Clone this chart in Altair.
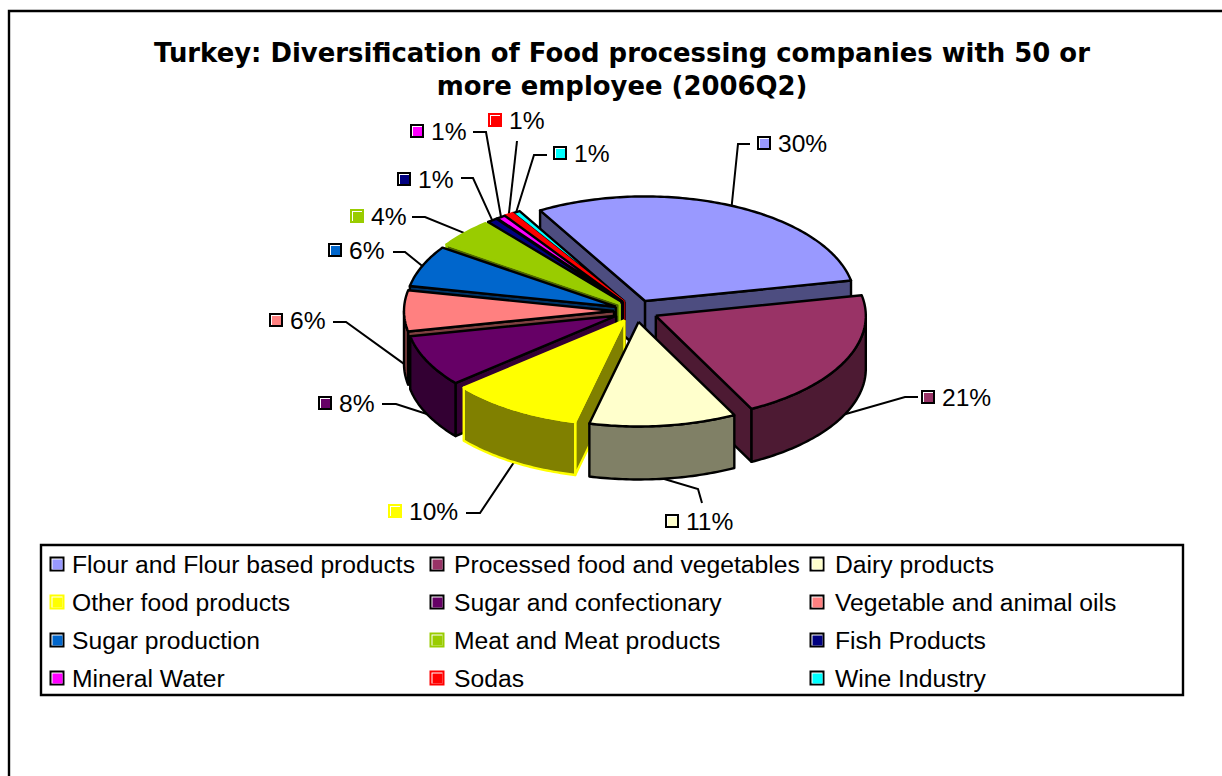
import math
import altair as alt
import pandas as pd

# Share of companies per sector, in percent
sectors = ["Flour and Flour based products", "Processed food and vegetables", "Dairy products",
           "Other food products", "Sugar and confectionary", "Vegetable and animal oils",
           "Sugar production", "Meat and Meat products", "Fish Products",
           "Mineral Water", "Sodas", "Wine Industry"]
shares = [30.2, 20.6, 11.3, 10.1, 8.0, 6.3, 6.4, 4.4, 0.8, 0.7, 0.6, 0.6]
tops = ["#9999FF", "#993366", "#FFFFCC", "#FFFF00", "#660066", "#FF8080",
        "#0066CC", "#99CC00", "#000080", "#FF00FF", "#FF0000", "#00FFFF"]
walls = ["#4D4D80", "#4D1A33", "#808066", "#808000", "#330033", "#804040",
         "#003366", "#4D6600", "#000040", "#800080", "#800000", "#008080"]
edges = ["#000000", "#000000", "#000000", "#FFFF00", "#000000", "#000000",
         "#000000", "#99CC00", "#000000", "#000000", "#FF0000", "#000000"]
# Painter's order, back to front
draw_order = [0, 11, 10, 9, 8, 7, 6, 5, 4, 3, 1, 2]

# Pie geometry
CX, CY = 636, 311
RADIUS, SQUASH, DEPTH, EXPLODE = 210, 0.498, 53, 22
START_ANGLE = -30

# Elbow of each leader line and placement of each data label
elbows = [[(738, 144), (750, 144)], [(905, 397), (918, 397)], [(698, 489), (702, 503)],
          [(480, 513), (466, 513)], [(396, 404), (382, 404)], [(346, 322), (333, 322)],
          [(405, 252), (393, 252)], [(425, 217), (412, 217)], [(473, 178), (461, 178)],
          [(486, 132), (473, 132)], [(517, 141)], [(534, 155), (547, 155)]]
label_keys = [(764, 143), (928, 397), (672, 521), (395, 511), (325, 403), (276, 320),
              (335, 250), (357, 216), (404, 179), (417, 131), (495, 120), (560, 153)]
legend_cols = [(57, 72), (437, 454), (817, 835)]
legend_rows = [564, 602, 640, 678]

X = alt.Scale(domain=[0, 1222], range=[0, 1222], nice=False, zero=False)
Y = alt.Scale(domain=[0, 776], range=[0, 776], nice=False, zero=False)
ex = alt.X("x:Q", scale=X, axis=None)
ey = alt.Y("y:Q", scale=Y, axis=None)

layers = []


def rim_point(apex, deg, drop=0):
    a = math.radians(deg)
    return (apex[0] + RADIUS * math.sin(a), apex[1] - RADIUS * SQUASH * math.cos(a) + drop)


def polygon(points, fill, stroke, width=2.4):
    pts = list(points) + [points[0]]
    df = pd.DataFrame({"x": [p[0] for p in pts], "y": [p[1] for p in pts], "i": range(len(pts))})
    layers.append(
        alt.Chart(df)
        .mark_line(fill=fill, stroke=stroke, strokeWidth=width, strokeJoin="round", interpolate="linear")
        .encode(x=ex, y=ey, order="i:Q")
    )


def polyline(points, color="#000000", width=2):
    df = pd.DataFrame({"x": [p[0] for p in points], "y": [p[1] for p in points], "i": range(len(points))})
    layers.append(
        alt.Chart(df).mark_line(stroke=color, strokeWidth=width).encode(x=ex, y=ey, order="i:Q")
    )


def text_layer(rows, size, font="Liberation Sans", weight="normal", align="left"):
    layers.append(
        alt.Chart(pd.DataFrame(rows))
        .mark_text(font=font, fontSize=size, fontWeight=weight, align=align, baseline="middle", color="#000000")
        .encode(x=ex, y=ey, text="t:N")
    )


def key(cx, cy, idx, side=14):
    outer = "#000000" if edges[idx] == "#000000" else tops[idx]
    df = pd.DataFrame({"x": [cx], "y": [cy]})
    for fill, s, off in [(outer, side, 0), ("#FFFFFF", side - 4, 0), (tops[idx], side - 5, 0.5)]:
        layers.append(
            alt.Chart(df)
            .mark_square(size=s * s, color=fill, opacity=1, xOffset=off, yOffset=off)
            .encode(x=ex, y=ey)
        )


# Slice angles and exploded apexes
angles = []
a0 = START_ANGLE
for v in shares:
    a1 = a0 + v * 3.6
    angles.append((a0, a1))
    a0 = a1


def apex_of(i):
    mid = math.radians(sum(angles[i]) / 2)
    return (CX + EXPLODE * math.sin(mid), CY - EXPLODE * SQUASH * math.cos(mid))


# Chart frame: only its top and left sides fall inside the page
polyline([(9, 776), (9, 11), (1222, 11)], width=2.4)

# Leader lines sit beneath the pie
for i in range(len(shares)):
    mid = sum(angles[i]) / 2 % 360
    drop = DEPTH if 90 <= mid <= 275 else 0
    polyline([rim_point(apex_of(i), mid, drop)] + elbows[i])

# Extruded slices: radial walls facing the viewer, front rim, then the top face
for i in draw_order:
    a, b = angles[i]
    apex = apex_of(i)
    wall, top, edge = walls[i], tops[i], edges[i]
    for ang, facing in ((a, math.sin(math.radians(a)) < 0), (b, math.sin(math.radians(b)) > 0)):
        if facing:
            p = rim_point(apex, ang)
            polygon([apex, p, (p[0], p[1] + DEPTH), (apex[0], apex[1] + DEPTH)], wall, edge)
    lo, hi = max(a, 90), min(b, 270)
    if hi > lo:
        n = max(2, int(hi - lo) + 1)
        arc = [lo + (hi - lo) * k / (n - 1) for k in range(n)]
        upper = [rim_point(apex, t) for t in arc]
        lower = [rim_point(apex, t, DEPTH) for t in reversed(arc)]
        polygon(upper + lower, wall, edge)
    n = max(3, int(b - a) + 1)
    arc = [a + (b - a) * k / (n - 1) for k in range(n)]
    polygon([apex] + [rim_point(apex, t) for t in arc], top, edge)

# Data labels
for i, v in enumerate(shares):
    kx, ky = label_keys[i]
    key(kx, ky, i, side=14)
text_layer([{"x": label_keys[i][0] + 14, "y": label_keys[i][1] + 2, "t": f"{round(v)}%"}
            for i, v in enumerate(shares)], 24.6)

# Title
text_layer([{"x": 622, "y": 54, "t": "Turkey: Diversification of Food processing companies with 50 or"},
            {"x": 622, "y": 87, "t": "more employee (2006Q2)"}],
           25.9, font="DejaVu Sans", weight="bold", align="center")

# Legend box and entries
box = pd.DataFrame({"x": [41], "x2": [1183], "y": [545], "y2": [695]})
layers.append(
    alt.Chart(box).mark_rect(fill="#FFFFFF", stroke="#000000", strokeWidth=2.4)
    .encode(x=ex, x2="x2:Q", y=ey, y2="y2:Q")
)
rows = []
for i, name in enumerate(sectors):
    kx, tx = legend_cols[i % 3]
    ky = legend_rows[i // 3]
    key(kx, ky, i, side=15)
    rows.append({"x": tx, "y": ky + 2, "t": name})
text_layer(rows, 24.7)

chart = (
    alt.layer(*layers)
    .properties(width=1222, height=776, padding=0, autosize=alt.AutoSizeParams(type="none"), background="#FFFFFF")
    .configure_view(stroke=None)
)
chart.save("out.html", embed_options={"renderer": "svg", "actions": False})
